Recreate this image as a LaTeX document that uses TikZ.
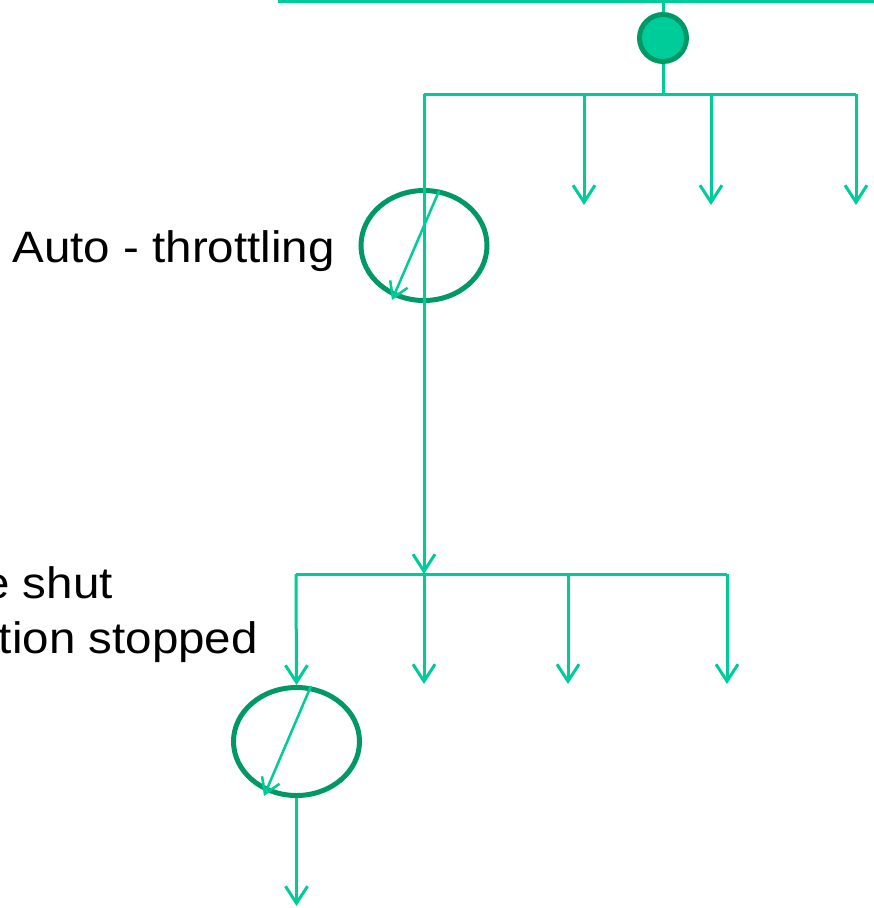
\documentclass[tikz,border=0pt]{standalone}
\usepackage{fontspec}
\setmainfont{Liberation Sans}
\newfontfamily\labelfont[FakeStretch=1.08]{Liberation Sans}
\usetikzlibrary{arrows.meta,shapes.geometric}
\definecolor{flowgreen}{HTML}{00CC99}
\definecolor{valvegreen}{HTML}{009966}
\begin{document}
\begin{tikzpicture}[x=1pt,y=-1pt,
  flow/.style={draw=flowgreen,line width=3pt},
  flowarrow/.style={flow,-{Straight Barb[length=17pt,width=22pt]}},
  turn/.style={draw=flowgreen,line width=2.5pt,-{Straight Barb[length=15pt,width=19pt]}},
  valve/.style={ellipse,draw=valvegreen,line width=5pt,inner sep=0pt,minimum width=126pt,minimum height=110pt},
  source/.style={circle,draw=valvegreen,fill=flowgreen,line width=5pt,inner sep=0pt,minimum size=47pt},
  label/.style={font=\labelfont\fontsize{44}{55}\selectfont,inner sep=0pt}]
\useasboundingbox (0,0) rectangle (874,908);

% supply header and source
\coordinate (hL) at (278,1);
\coordinate (hR) at (874,1);
\coordinate (hM) at (663,1);
\node[source] (src) at (663,38) {};

% first distribution bus
\coordinate (b1L) at (424,94);
\coordinate (b1M) at (663,94);
\coordinate (b1R) at (856,94);
\coordinate (b1a) at (584,94);
\coordinate (b1b) at (711,94);
\coordinate (o1a) at (584,205);
\coordinate (o1b) at (711,205);
\coordinate (o1c) at (856,205);

% throttling valve
\node[valve] (v1) at (424,245.5) {};
\coordinate (v1s) at (439,191);
\coordinate (v1e) at (392,300);

% second distribution bus
\coordinate (b2L) at (296,574);
\coordinate (b2M) at (424,574);
\coordinate (b2a) at (568,574);
\coordinate (b2R) at (727,574);
\coordinate (o2b) at (424,684);
\coordinate (o2c) at (568,684);
\coordinate (o2d) at (727,684);

% shut-off valve
\node[valve,minimum height=108pt] (v2) at (296.5,741.5) {};
\coordinate (v2s) at (311,686);
\coordinate (v2e) at (264,796);
\coordinate (out) at (296.5,906);

% lines
\draw[flow] (hL) -- (hR);
\draw[flow] (hM) -- (src.north);
\draw[flow] (src.south) -- (b1M);
\draw[flow] (b1L) -- (b1R);
\draw[flowarrow] (b1a) -- (o1a);
\draw[flowarrow] (b1b) -- (o1b);
\draw[flowarrow] (b1R) -- (o1c);
\draw[flowarrow] (b1L) -- (b2M);
\draw[turn] (v1s) -- (v1e);

\draw[flow] (b2L) -- (b2R);
\draw[flowarrow] (b2L) -- (v2.north);
\draw[flowarrow] (b2M) -- (o2b);
\draw[flowarrow] (b2a) -- (o2c);
\draw[flowarrow] (b2R) -- (o2d);
\draw[turn] (v2s) -- (v2e);
\draw[flowarrow] (v2.south) -- (out);

% labels
\node[label,anchor=base east] (t1) at (335,262) {Auto - throttling};
\node[label,anchor=base east] (t2) at (113,598) {e shut};
\node[label,anchor=base east] (t3) at (258,653) {tion stopped};
\end{tikzpicture}
\end{document}
